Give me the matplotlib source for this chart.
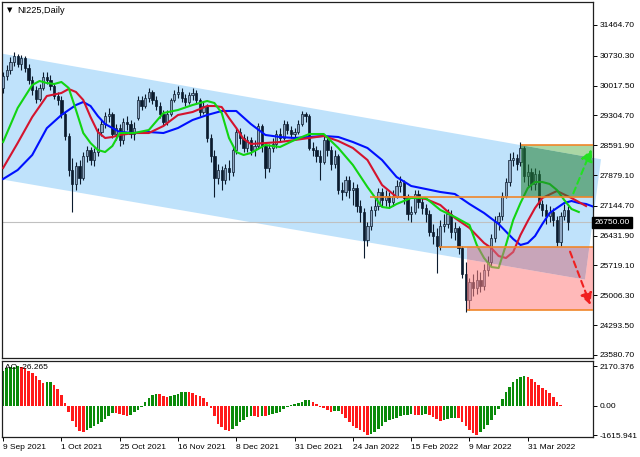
import matplotlib
matplotlib.use("Agg")
import matplotlib.pyplot as plt
import numpy as np
from matplotlib.patches import Polygon, Rectangle
from matplotlib.transforms import blended_transform_factory

plt.rcParams['font.family'] = ['Liberation Sans', 'DejaVu Sans']

# ---- NI225 daily candles, bar 0 = 9 Sep 2021 ----
opens = [29960, 30246, 30390, 30581, 30724, 30533, 30676, 30437, 30151, 29912,
         29697, 29960, 30222, 30151, 30007, 29768, 29673, 29338, 28813, 28000,
         27666, 28096, 27809, 28335, 28478, 28239, 28430, 28908, 29099, 29290,
         29338, 28860, 29004, 28717, 29147, 29099, 28860, 29243, 29673, 29529,
         29721, 29864, 29673, 29529, 29338, 29147, 29338, 29673, 29816, 29864,
         29721, 29625, 29792, 29840, 29673, 29386, 29529, 28765, 28335, 27809,
         28000, 27762, 28048, 27953, 28478, 28908, 28765, 28526, 28717, 28478,
         28574, 29052, 28574, 28048, 28526, 28622, 28860, 28765, 29099, 28956,
         28860, 28908, 29099, 29338, 29290, 28526, 28478, 28335, 28192, 28717,
         28478, 28144, 28335, 27523, 27475, 27762, 27523, 27570, 27140, 26997,
         26328, 26663, 27045, 27140, 27475, 27284, 27379, 27236, 27379, 27618,
         27714, 27332, 26949, 26997, 27427, 27236, 27093, 26949, 26519, 26424,
         26185, 26663, 26710, 26949, 26519, 26615, 26137, 25516, 24895, 25325,
         25181, 25372, 25229, 25611, 25803, 26376, 26758, 26902, 27379, 27714,
         28239, 28287, 28192, 28526, 27857, 27953, 27666, 27905, 27188, 27045,
         26902, 26997, 26806, 26280, 26902, 27045]
highs = [30342, 30509, 30700, 30819, 30772, 30748, 30724, 30533, 30246, 30007,
         30055, 30342, 30342, 30270, 30079, 29864, 29768, 29386, 28884, 28287,
         28192, 28239, 28430, 28574, 28550, 28526, 29004, 29195, 29386, 29482,
         29386, 29099, 29099, 29243, 29290, 29195, 29147, 29768, 29768, 29816,
         29960, 29912, 29768, 29625, 29434, 29434, 29721, 29912, 30007, 29960,
         29816, 29864, 29960, 29912, 29721, 29625, 29577, 28860, 28478, 28144,
         28096, 28144, 28239, 28574, 29028, 29004, 28860, 28813, 28789, 28717,
         29123, 29099, 28669, 28622, 28765, 28956, 29004, 29195, 29171, 29052,
         29004, 29195, 29410, 29386, 29338, 28669, 28574, 28478, 28813, 28765,
         28574, 28478, 28383, 27714, 27857, 27857, 27714, 27666, 27284, 27093,
         26758, 27140, 27332, 27570, 27570, 27523, 27475, 27523, 27762, 27857,
         27762, 27427, 27140, 27523, 27523, 27332, 27188, 27045, 26710, 26615,
         26806, 26949, 27069, 27045, 26758, 26663, 26185, 25803, 25420, 25516,
         25611, 25564, 25755, 25946, 26472, 26902, 26997, 27475, 27809, 28407,
         28430, 28383, 28669, 28574, 28144, 28048, 28048, 28000, 27284, 27188,
         27140, 27093, 26902, 26997, 27188, 27140]
lows = [29840, 30151, 30294, 30485, 30461, 30390, 30342, 30055, 29792, 29601,
        29649, 29912, 30055, 29912, 29697, 29553, 29243, 28717, 27857, 26997,
        27523, 27666, 27762, 28192, 28120, 28096, 28335, 28813, 29004, 29147,
        28765, 28717, 28574, 28622, 28956, 28765, 28717, 29195, 29434, 29482,
        29625, 29577, 29434, 29243, 29052, 29075, 29290, 29625, 29721, 29625,
        29529, 29577, 29673, 29577, 29290, 29338, 28669, 28192, 27355, 27666,
        27523, 27666, 27762, 27857, 28383, 28622, 28430, 28430, 28359, 28335,
        28526, 28430, 27809, 27953, 28430, 28526, 28669, 28717, 28860, 28765,
        28765, 28860, 29052, 29147, 28478, 28335, 28192, 27762, 28144, 28335,
        28000, 28048, 27427, 27284, 27379, 27332, 27164, 26997, 26758, 25898,
        26185, 26567, 26902, 27045, 27140, 27140, 27093, 27140, 27332, 27475,
        27188, 26806, 26758, 26949, 27093, 26949, 26758, 26424, 26233, 25540,
        26089, 26519, 26615, 26376, 26328, 25994, 25420, 24608, 24656, 24990,
        25038, 25086, 25134, 25468, 25707, 26280, 26567, 26806, 27332, 27618,
        28096, 28000, 28096, 27714, 27618, 27523, 27523, 27093, 26902, 26710,
        26758, 26663, 26185, 26185, 26806, 26567]
closes = [30246, 30390, 30581, 30724, 30533, 30676, 30437, 30151, 29912, 29697,
          29960, 30222, 30151, 30007, 29768, 29673, 29338, 28813, 28000, 27666,
          28096, 27809, 28335, 28478, 28239, 28430, 28908, 29099, 29290, 29338,
          28860, 29004, 28717, 29147, 29099, 28860, 29004, 29673, 29529, 29721,
          29864, 29673, 29529, 29338, 29147, 29338, 29673, 29816, 29864, 29721,
          29625, 29792, 29840, 29673, 29386, 29529, 28765, 28335, 27809, 28000,
          27762, 28048, 27953, 28478, 28908, 28765, 28526, 28717, 28478, 28574,
          29052, 28574, 28048, 28526, 28622, 28860, 28765, 29099, 28956, 28860,
          28908, 29099, 29338, 29290, 28526, 28478, 28335, 28192, 28717, 28478,
          28144, 28335, 27523, 27475, 27762, 27523, 27570, 27140, 26997, 26328,
          26663, 27045, 27140, 27475, 27284, 27379, 27236, 27379, 27618, 27714,
          27332, 26949, 26997, 27427, 27236, 27093, 26949, 26519, 26424, 26185,
          26663, 26710, 26949, 26519, 26615, 26137, 25516, 24895, 25325, 25181,
          25372, 25229, 25611, 25803, 26376, 26758, 26902, 27379, 27714, 28239,
          28287, 28144, 28526, 27857, 27953, 27666, 27905, 27188, 27045, 26902,
          26997, 26806, 26280, 26902, 27045, 26750]

# ---- Alligator lines (shifted forward past last bar) ----
jaw_idx = [0, 4, 8, 12, 16, 20, 22, 24, 26, 28, 32, 36, 40, 44, 48, 52, 56, 60, 64,
           68, 72, 76, 80, 84, 88, 92, 96, 100, 104, 108, 112, 116, 120, 124, 128,
           132, 136, 140, 142, 144, 146, 148, 150, 152, 154, 156, 158, 160, 163]
jaw = [27785, 28000, 28359, 29000, 29314, 29553, 29625, 29529, 29290, 29099, 28908,
       28884, 28908, 28884, 29004, 29195, 29314, 29410, 29410, 29099, 28837, 28789,
       28765, 28789, 28813, 28789, 28669, 28526, 28239, 27833, 27618, 27547, 27475,
       27427, 27188, 26973, 26710, 26352, 26209, 26257, 26424, 26710, 26973, 27093,
       27212, 27260, 27212, 27188, 27093]
teeth_idx = [0, 4, 8, 12, 16, 18, 20, 22, 24, 26, 28, 30, 32, 36, 40, 44, 48, 52, 56,
             58, 60, 62, 64, 66, 68, 72, 76, 80, 84, 88, 92, 96, 100, 104, 108, 112,
             116, 120, 124, 128, 132, 134, 136, 138, 140, 142, 144, 146, 148, 152,
             156, 160]
teeth = [28048, 28645, 29267, 29768, 29840, 29936, 29864, 29673, 29267, 28908, 28765,
         28789, 28837, 28884, 28884, 29052, 29314, 29386, 29529, 29529, 29505, 29243,
         29004, 28741, 28622, 28645, 28669, 28717, 28765, 28813, 28693, 28526, 28239,
         27642, 27355, 27355, 27308, 27164, 26854, 26615, 26257, 26137, 25946, 25898,
         26042, 26448, 26782, 27093, 27332, 27499, 27332, 27140]
lips_idx = [0, 4, 8, 10, 12, 14, 16, 18, 20, 22, 24, 26, 28, 30, 32, 36, 40, 44, 48,
            52, 56, 58, 60, 62, 64, 66, 68, 72, 76, 80, 84, 88, 92, 96, 100, 102, 104,
            106, 108, 112, 116, 120, 124, 128, 130, 132, 134, 136, 138, 140, 142, 144,
            146, 148, 150, 152, 154, 156, 158]
lips = [28669, 29482, 30031, 30127, 30079, 30055, 30103, 29960, 29434, 28884, 28645,
        28478, 28430, 28574, 28884, 28884, 28956, 29362, 29434, 29553, 29649, 29601,
        29362, 28765, 28430, 28359, 28407, 28598, 28550, 28717, 28860, 28860, 28526,
        28120, 27594, 27355, 27117, 27093, 27188, 27332, 27332, 27045, 26878, 26687,
        26209, 25898, 25683, 25659, 26209, 26806, 27212, 27570, 27714, 27714, 27666,
        27523, 27284, 27069, 26997]

# ---- Awesome Oscillator ----
ao = [1925, 2053, 2120, 2150, 2170.376, 2130, 2053, 1925, 1796, 1613,
      1430, 1260, 1290, 1300, 1136, 917, 587, 147, -330, -825,
      -1191, -1375, -1430, -1320, -1246, -1136, -1008, -880, -733, -550,
      -403, -420, -440, -513, -550, -513, -367, -220, -92, 183,
      403, 587, 642, 623, 513, 495, 550, 587, 642, 733,
      770, 755, 697, 587, 513, 403, 183, -147, -550, -1008,
      -1191, -1320, -1375, -1283, -1100, -917, -770, -642, -550, -570,
      -600, -560, -580, -520, -470, -403, -330, -183, -55, 37,
      73, 147, 220, 293, 330, 220, 73, -55, -110, -238,
      -330, -293, -280, -477, -697, -880, -1100, -1246, -1338, -1466,
      -1600, -1540, -1430, -1283, -1100, -917, -807, -733, -660, -550,
      -513, -500, -477, -513, -530, -490, -480, -513, -605, -733,
      -843, -807, -733, -697, -660, -697, -880, -1100, -1338, -1521,
      -1615.941, -1466, -1283, -1063, -788, -513, -183, 367, 733, 1045,
      1283, 1466, 1595, 1613, 1576, 1466, 1320, 1136, 990, 862,
      678, 495, 220, 30, -10, -26.265]

date_ticks = [0, 16, 32, 48, 64, 80, 96, 112, 128, 144]
date_labels = ['9 Sep 2021', '1 Oct 2021', '25 Oct 2021', '16 Nov 2021', '8 Dec 2021',
               '31 Dec 2021', '24 Jan 2022', '15 Feb 2022', '9 Mar 2022', '31 Mar 2022']
price_ticks = [31464.70, 30730.30, 30017.50, 29304.70, 28591.90, 27879.10, 27144.70,
               26431.90, 25719.10, 25006.30, 24293.50, 23580.70]
ao_ticks = [2170.376, 0.0, -1615.941]
last_price = 26750.00

# drawn objects: channel, levels, zones
chan_upper = [(-0.3, 30780), (164.1, 28257)]
chan_lower = [(-0.3, 27775), (159.7, 25382)]
level_top, level_mid, level_low, level_bottom = 28591.9, 27355, 26161, 24650
green_zone_start = 142.1
red_zone_start = 127.3
mid_line_start = 100.7
low_line_start = 119.6
green_arrow = [(156.5, 27443), (161.5, 28495)]
red_arrow = [(155.6, 26049), (161.2, 24775)]

XMIN, XMAX = -0.3, 161.9

fig = plt.figure(figsize=(6.4, 4.57), dpi=100)
ax = fig.add_axes([2 / 640, 1 - 358 / 457, 591 / 640, 356 / 457])
ax2 = fig.add_axes([2 / 640, 1 - 437 / 457, 591 / 640, 76 / 457])

# channel (background)
chan_pts = [chan_upper[0], chan_upper[1], chan_lower[1], chan_lower[0]]
channel = Polygon(chan_pts, closed=True, facecolor='#bfe2fb', edgecolor='none',
                  zorder=0.5, clip_on=False)
ax.add_patch(channel)

# current price line
ax.axhline(last_price, color='#c0c0c0', lw=0.8, zorder=1)

# candles
idx = np.arange(len(closes))
o = np.array(opens, dtype=float)
c = np.array(closes, dtype=float)
up = c >= o
ax.vlines(idx, lows, highs, color='#0b1b2e', lw=0.8, zorder=3)
body_lo = np.minimum(o, c)
body_h = np.maximum(np.abs(c - o), 12)
ax.bar(idx[up], body_h[up], bottom=body_lo[up], width=0.62, color='#8ea7c2',
       edgecolor='#0b1b2e', linewidth=0.5, zorder=4)
ax.bar(idx[~up], body_h[~up], bottom=body_lo[~up], width=0.62, color='#0b1b2e',
       edgecolor='#0b1b2e', linewidth=0.5, zorder=4)

# alligator
ax.plot(jaw_idx, jaw, color='#0010ff', lw=1.5, zorder=5, solid_joinstyle='round')
ax.plot(teeth_idx, teeth, color='#d4142e', lw=1.5, zorder=5, solid_joinstyle='round')
ax.plot(lips_idx, lips, color='#12d412', lw=1.5, zorder=5, solid_joinstyle='round')

# zones: different tint over the channel and over white
above = Polygon([chan_upper[0], chan_upper[1], (200, chan_upper[1][1]), (200, 40000),
                 (-5, 40000)], transform=ax.transData)
below = Polygon([chan_lower[0], chan_lower[1], chan_upper[1], (200, chan_upper[1][1]),
                 (200, 10000), (-5, 10000)], transform=ax.transData)
inside = Polygon(chan_pts, transform=ax.transData)


def zone(x0, y0, y1, col_in, col_out):
    for clip, col in ((inside, col_in), (above, col_out), (below, col_out)):
        r = Rectangle((x0, y0), XMAX - x0, y1 - y0, facecolor=col, edgecolor='none',
                      alpha=0.55, zorder=6)
        ax.add_patch(r)
        r.set_clip_path(clip)


zone(green_zone_start, level_mid, level_top, '#238032', '#64b65b')
zone(red_zone_start, level_bottom, level_low, '#d07384', '#ff8080')

orange = '#f0862a'
ax.hlines(level_top, green_zone_start, XMAX, color=orange, lw=1.2, zorder=7)
ax.hlines(level_mid, mid_line_start, XMAX, color=orange, lw=1.2, zorder=7)
ax.hlines(level_low, low_line_start, XMAX, color=orange, lw=1.2, zorder=7)
ax.hlines(level_bottom, red_zone_start, XMAX, color=orange, lw=1.2, zorder=7)

for (p0, p1), col in ((green_arrow, '#22e022'), (red_arrow, '#f02020')):
    ax.annotate('', xy=p1, xytext=p0, zorder=8,
                arrowprops=dict(arrowstyle='-|>,head_length=0.7,head_width=0.35',
                                color=col, lw=1.5, linestyle=(0, (3, 2)),
                                shrinkA=0, shrinkB=0))

ax.set_xlim(XMIN, XMAX)
ax.set_ylim(23509, 32014)
ax.set_xticks([])
ax.yaxis.tick_right()
ax.set_yticks(price_ticks)
ax.set_yticklabels(['%.2f' % v for v in price_ticks])
ax.tick_params(axis='y', length=3, width=0.7, pad=2, labelsize=6)
for s in ax.spines.values():
    s.set_linewidth(0.9)
    s.set_color('#202020')

tr = blended_transform_factory(ax.transAxes, ax.transData)
ax.text(1.003, last_price, '%.2f' % last_price, transform=tr, ha='left', va='center',
        fontsize=6, color='white', zorder=10,
        bbox=dict(boxstyle='square,pad=0.28', fc='black', ec='black'))
ax.text(0.009, 0.976, '\u25BC', transform=ax.transAxes, fontsize=5,
        family=['DejaVu Sans'], va='center', ha='left')
ax.text(0.025, 0.976, 'NI225,Daily', transform=ax.transAxes, fontsize=6.6,
        va='center', ha='left')

# AO histogram
ao = np.array(ao)
diff = np.diff(ao, prepend=ao[0] - 1)
ao_cols = np.where(diff >= 0, '#0a8a0a', '#ff1a1a')
ax2.bar(np.arange(len(ao)), ao, width=0.7, color=ao_cols, zorder=2)
ax2.set_xlim(XMIN, XMAX)
ax2.set_ylim(-1721, 2458)
ax2.yaxis.tick_right()
ax2.set_yticks(ao_ticks)
ax2.set_yticklabels(['2170.376', '0.00', '-1615.941'])
ax2.tick_params(axis='y', length=3, width=0.7, pad=2, labelsize=6)
ax2.set_xticks(date_ticks)
ax2.set_xticklabels(date_labels, ha='left')
ax2.tick_params(axis='x', length=3, width=0.7, pad=2, labelsize=6)
for s in ax2.spines.values():
    s.set_linewidth(0.9)
    s.set_color('#202020')
ax2.text(0.005, 0.92, 'AO -26.265', transform=ax2.transAxes, fontsize=6,
         va='center', ha='left', zorder=5)

fig.savefig('out.png', dpi=100, facecolor='white')
